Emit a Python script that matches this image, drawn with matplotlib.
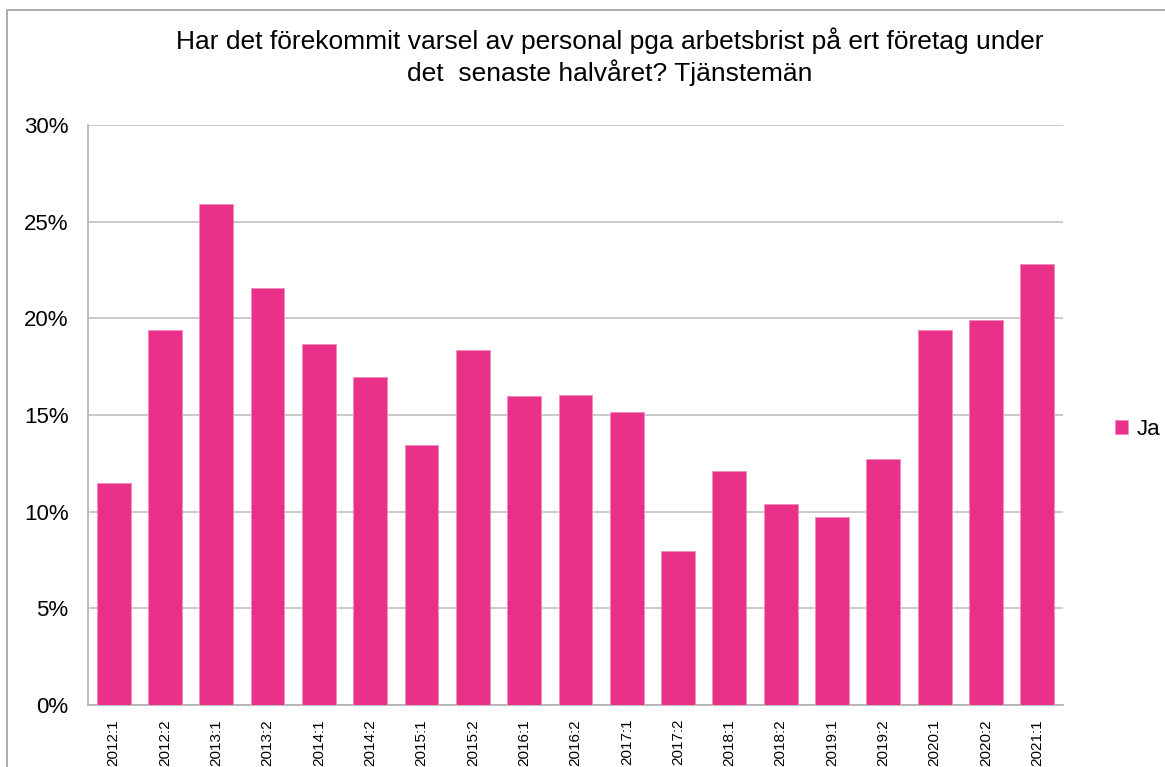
import numpy as np
import matplotlib.pyplot as plt
from matplotlib.patches import Rectangle
from matplotlib.ticker import FuncFormatter

plt.rcParams['font.family'] = ['Liberation Sans', 'DejaVu Sans']

# perioder (halvår) och andel "Ja"
perioder = ['2012:1', '2012:2', '2013:1', '2013:2', '2014:1', '2014:2', '2015:1',
            '2015:2', '2016:1', '2016:2', '2017:1', '2017:2', '2018:1', '2018:2',
            '2019:1', '2019:2', '2020:1', '2020:2', '2021:1']
ja = [0.1148, 0.1940, 0.2592, 0.2159, 0.1866, 0.1697, 0.1347, 0.1835, 0.1598,
      0.1602, 0.1514, 0.0795, 0.1209, 0.1038, 0.0974, 0.1274, 0.1940, 0.1990, 0.2283]
y_ticks = [0, 0.05, 0.10, 0.15, 0.20, 0.25, 0.30]

fig = plt.figure(figsize=(11.65, 7.67), dpi=100)
ax = fig.add_axes([0.0755, 0.0808, 0.8369, 0.7562])

x = np.arange(len(perioder))
ax.bar(x, ja, width=0.66, color='#EA318A', edgecolor='#F58CBB', linewidth=0.6,
       label='Ja', zorder=3)

ax.set_xlim(-0.5, len(perioder) - 0.5)
ax.set_ylim(0, 0.30)
ax.set_yticks(y_ticks)
ax.yaxis.set_major_formatter(FuncFormatter(lambda v, p: '%d%%' % round(v * 100)))
ax.set_xticks(x)
ax.set_xticklabels(perioder, rotation=90, fontsize=11)
ax.tick_params(axis='y', labelsize=16, length=0, pad=14)
ax.tick_params(axis='x', length=0, pad=10)

ax.grid(axis='y', color='#C0C0C0', linewidth=1.2, zorder=0)
for s in ['top', 'right']:
    ax.spines[s].set_visible(False)
ax.spines['left'].set_color('#B0B0B0')
ax.spines['bottom'].set_color('#B0B0B0')
ax.spines['left'].set_linewidth(1.2)
ax.spines['bottom'].set_linewidth(1.2)

# rubrik
fig.text(0.523, 0.947, 'Har det förekommit varsel av personal pga arbetsbrist på ert företag under',
         ha='center', va='center', fontsize=19)
fig.text(0.523, 0.905, 'det  senaste halvåret? Tjänstemän',
         ha='center', va='center', fontsize=19)

# legend
ax.legend(loc='center left', bbox_to_anchor=(1.033, 0.475), frameon=False,
          fontsize=16, handlelength=0.6, handleheight=0.6, handletextpad=0.35)

# ram runt diagrammet
fig.patches.append(Rectangle((7 / 1165, -0.1), 1.2, 1 - 10 / 767 + 0.1,
                             transform=fig.transFigure, fill=False,
                             edgecolor='#A0A0A0', linewidth=1.2))

fig.savefig('out.png', dpi=100)
